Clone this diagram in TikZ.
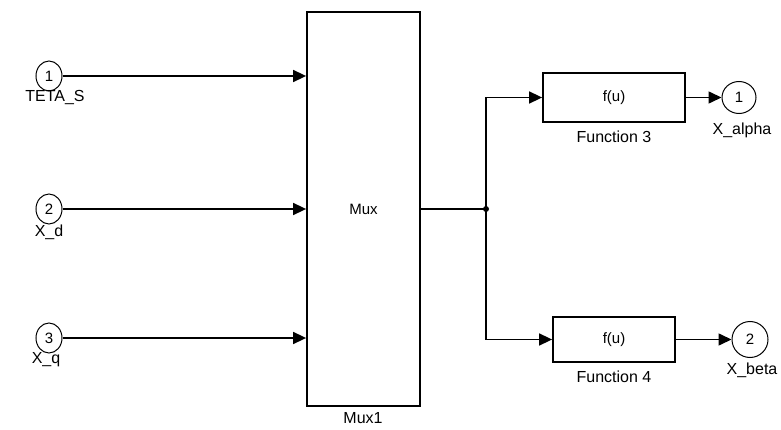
\documentclass[tikz,border=0pt]{standalone}
\usepackage{fontspec}
\setmainfont{Liberation Sans}
\usetikzlibrary{arrows.meta,shapes.geometric}

\begin{document}
\begin{tikzpicture}[x=1pt,y=-1pt]
\tikzstyle{port}=[draw,ellipse,line width=1pt,inner sep=0pt,font=\fontsize{15}{17}\selectfont]
\tikzstyle{block}=[draw,rectangle,line width=1.8pt,inner sep=0pt,font=\fontsize{15}{17}\selectfont]
\tikzstyle{lbl}=[inner sep=0pt,font=\fontsize{16}{18}\selectfont]
\tikzstyle{sig}=[line width=1.6pt,-{Triangle[length=13pt,width=12pt]}]

	\useasboundingbox (0,0) rectangle (781,430);

	% inports
	\node (in1) [port,minimum width=26pt,minimum height=30pt] at (49,76) {1};
	\node (in2) [port,minimum width=26pt,minimum height=30pt] at (49,209) {2};
	\node (in3) [port,minimum width=26pt,minimum height=30pt] at (49,338) {3};
	\node (lin1) [lbl] at (55,98) {TETA\_S};
	\node (lin2) [lbl] at (49,232) {X\_d};
	\node (lin3) [lbl] at (46,360) {X\_q};

	% mux
	\node (mux) [block,minimum width=113pt,minimum height=394pt] at (363.5,209) {Mux};
	\node (lmux) [lbl] at (363,418) {Mux1};

	% functions
	\node (fcn3) [block,minimum width=142pt,minimum height=49pt] at (614,97.5) {f(u)};
	\node (fcn4) [block,minimum width=122pt,minimum height=45pt] at (614,339.5) {f(u)};
	\node (lfcn3) [lbl] at (614,137) {Function 3};
	\node (lfcn4) [lbl] at (614,377) {Function 4};

	% outports
	\node (out1) [port,minimum width=34pt,minimum height=32pt] at (739,97.5) {1};
	\node (out2) [port,minimum width=36pt,minimum height=36pt] at (750,339.5) {2};
	\node (lout1) [lbl] at (742,130) {X\_alpha};
	\node (lout2) [lbl] at (752,370) {X\_beta};

	% signals
	\draw [sig] (in1) -- (mux.west |- in1);
	\draw [sig] (in2) -- (mux.west |- in2);
	\draw [sig] (in3) -- (mux.west |- in3);

	\coordinate (split) at (486,209);
	\draw [line width=1.6pt] (mux.east |- split) -- (split);
	\draw [sig] (split) |- (fcn3.west);
	\draw [sig] (split) |- (fcn4.west);
	\fill (split) circle (3pt);

	\draw [sig] (fcn3) -- (out1);
	\draw [sig] (fcn4) -- (out2);

\end{tikzpicture}
\end{document}
